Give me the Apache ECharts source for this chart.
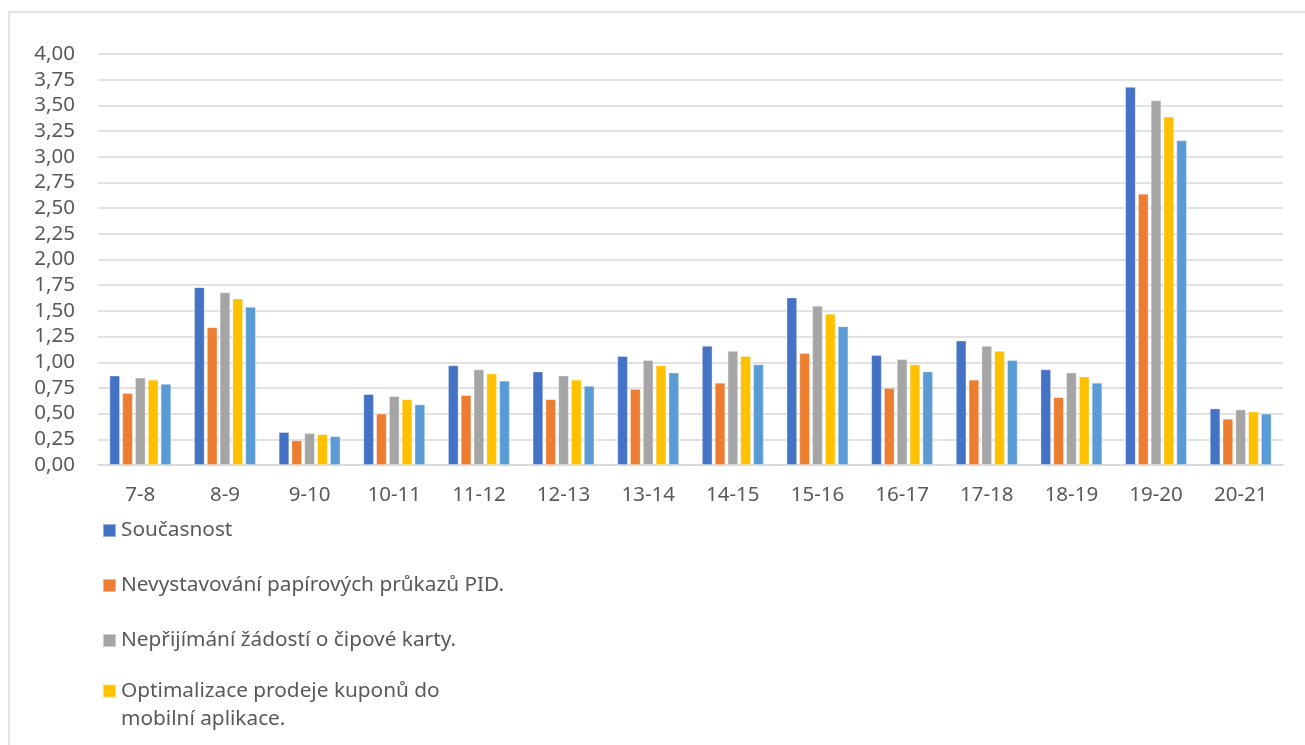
<!DOCTYPE html>
<html>
<head>
<meta charset="utf-8">
<script src="https://cdn.jsdelivr.net/npm/echarts@6/dist/echarts.min.js"></script>
<style>
html,body{margin:0;padding:0;background:#fff;}
#chart{width:1305px;height:745px;}
</style>
</head>
<body>
<div id="chart"></div>
<script>
const categories = ['7-8','8-9','9-10','10-11','11-12','12-13','13-14','14-15','15-16','16-17','17-18','18-19','19-20','20-21'];
const seriesNames = ['Současnost','Nevystavování papírových průkazů PID.','Nepřijímání žádostí o čipové karty.','Optimalizace prodeje kuponů do mobilní aplikace.','Série 5'];
const soucasnost = [0.87,1.73,0.32,0.69,0.97,0.91,1.06,1.16,1.63,1.07,1.21,0.93,3.68,0.55];
const nevystavovani = [0.70,1.34,0.24,0.50,0.68,0.64,0.74,0.80,1.09,0.75,0.83,0.66,2.64,0.45];
const neprijimani = [0.85,1.68,0.31,0.67,0.93,0.87,1.02,1.11,1.55,1.03,1.16,0.90,3.55,0.54];
const optimalizace = [0.83,1.62,0.30,0.64,0.89,0.83,0.97,1.06,1.47,0.98,1.11,0.86,3.39,0.52];
const serie5 = [0.79,1.54,0.28,0.59,0.82,0.77,0.90,0.98,1.35,0.91,1.02,0.80,3.16,0.50];
const yTicks = ['0,00','0,25','0,50','0,75','1,00','1,25','1,50','1,75','2,00','2,25','2,50','2,75','3,00','3,25','3,50','3,75','4,00'];

const colors = ['#4472C4','#ED7D31','#A5A5A5','#FFC000','#5B9BD5'];
const values = [soucasnost, nevystavovani, neprijimani, optimalizace, serie5];
const FONT = 'Noto Sans';
const txt = '#595959';

const chart = echarts.init(document.getElementById('chart'), null, {renderer:'canvas'});
const option = {
  animation: false,
  backgroundColor: '#fff',
  color: colors,
  graphic: [{
    type: 'rect', shape: {x: 9, y: 12, width: 1320, height: 760},
    style: {fill: 'none', stroke: '#D9D9D9', lineWidth: 1.5}, silent: true, z: -10
  }],
  grid: {left: 98, right: 22, top: 54, bottom: 280, containLabel: false},
  legend: [{
    orient: 'vertical', left: 102, top: 517, padding: 0,
    itemWidth: 13, itemHeight: 13, itemGap: 28,
    icon: 'rect',
    data: seriesNames.slice(0,3),
    textStyle: {fontFamily: FONT, fontSize: 20.8, color: txt, lineHeight: 27}
  },{
    orient: 'vertical', left: 102, top: 649, padding: 0,
    itemWidth: 13, itemHeight: 13,
    icon: 'rect',
    data: [seriesNames[3]],
    formatter: function(){ return ' \nOptimalizace prodeje kuponů do\nmobilní aplikace.'; },
    textStyle: {fontFamily: FONT, fontSize: 20.8, color: txt, lineHeight: 28}
  }],
  xAxis: {
    type: 'category', data: categories,
    axisLine: {show: true, lineStyle: {color: '#D9D9D9', width: 1.5}},
    axisTick: {show: false},
    axisLabel: {fontFamily: FONT, fontSize: 20.5, color: txt, margin: 20}
  },
  yAxis: {
    type: 'value', min: 0, max: 4, interval: 0.25,
    axisLine: {show: false}, axisTick: {show: false},
    splitLine: {lineStyle: {color: '#D9D9D9', width: 1.5}},
    axisLabel: {fontFamily: FONT, fontSize: 20.5, color: txt, margin: 23,
      formatter: function(v){ return yTicks[Math.round(v/0.25)]; }}
  },
  series: values.map(function(d, i){
    return {
      name: seriesNames[i], type: 'bar', data: d,
      barWidth: 10.5, barGap: '22%',
      itemStyle: {color: colors[i], borderColor: 'rgba(255,255,255,0.45)', borderWidth: 0.8}
    };
  })
};
chart.setOption(option);
</script>
</body>
</html>
